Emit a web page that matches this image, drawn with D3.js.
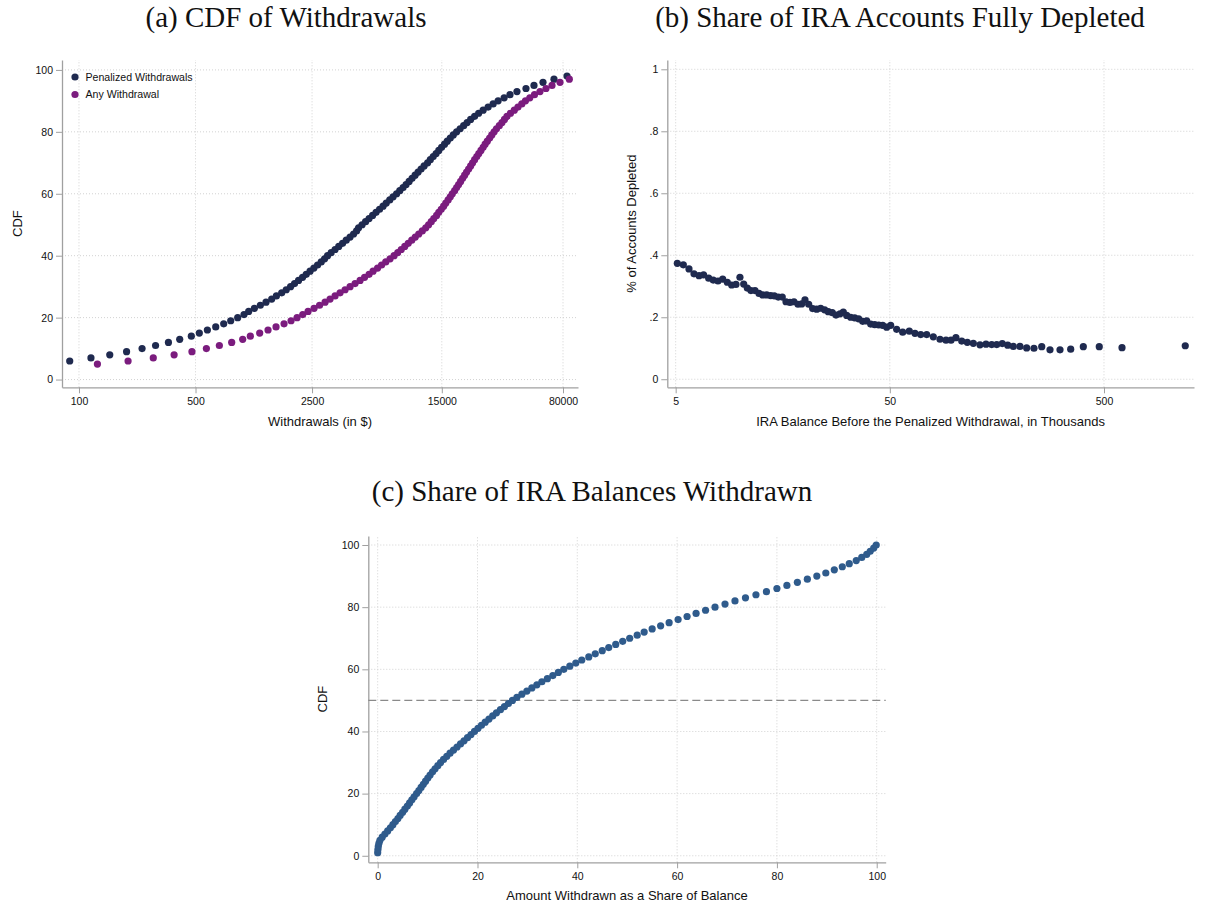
<!DOCTYPE html>
<html><head><meta charset="utf-8">
<script src="https://cdn.jsdelivr.net/npm/d3@7"></script>
<style>body{margin:0;background:#fff}</style>
</head><body>
<script>
// ---------- Panel (a): CDF of withdrawals (percentile -> dollars) ----------
const penalizedPct = d3.range(6, 99);
const penalizedAmt = [88,118,153,193,239,288,344,402,472,527,589,661,738,813,895,977,1042,1127,1224,1324,
  1432,1528,1644,1750,1858,1963,2075,2193,2307,2432,2564,2698,2838,2972,3097,3258,3436,3614,3811,4009,
  4227,4436,4624,4753,4989,5236,5495,5768,6053,6353,6668,6966,7311,7656,8035,8395,8790,9162,9550,9954,
  10375,10814,11272,11749,12331,12800,13330,13870,14390,14960,15580,16180,16870,17580,18410,19320,20280,21280,22340,23600,
  24950,26550,28440,30480,32660,35480,38460,42360,47970,53580,60670,70630,84530];
const anyPct = d3.range(5, 98);
const anyAmt = [129,197,279,372,476,581,695,824,959,1066,1213,1361,1520,1698,1871,2032,2198,2366,2570,2773,
  2992,3206,3436,3681,3945,4227,4529,4853,5164,5495,5808,6180,6531,6918,7345,7762,8166,8570,8995,9441,
  9908,10400,10910,11460,12020,12500,12970,13430,13960,14390,14890,15380,15850,16370,16870,17340,17910,18410,18920,19450,
  20000,20560,21130,21730,22340,22960,23600,24320,25000,25760,26550,27290,28120,29040,29920,30900,31920,33190,34440,35640,
  36900,38730,40830,42950,45290,47640,50580,53950,58210,63240,68710,76740,87300];
const aXTicks = [100,500,2500,15000,80000];
const aYTicks = [0,20,40,60,80,100];
const aLegend = ["Penalized Withdrawals","Any Withdrawal"];

// ---------- Panel (b): share of accounts fully depleted ----------
const balanceK = [5.09,5.43,5.77,6.09,6.43,6.75,7.13,7.49,7.88,8.29,8.71,9.13,9.56,9.98,10.39,10.80,11.23,11.73,12.25,12.74,
  13.30,13.89,14.44,15.07,15.73,16.37,17.09,17.84,18.63,19.38,20.08,20.90,21.81,22.77,23.77,24.81,25.80,26.93,28.03,29.26,
  30.32,31.44,32.83,34.27,35.77,37.34,38.98,40.70,42.49,44.35,46.30,48.34,50.46,53.81,57.41,61.64,65.52,69.70,74.31,79.80,
  85.74,91.46,96.51,101.8,108.3,115.0,122.7,131.8,140.6,149.5,157.8,167.5,177.6,188.6,202.6,217.7,235.5,256.0,279.8,311.6,
  349.6,400.3,475.3,607.0,1198];
const depleted = [0.374,0.369,0.356,0.340,0.334,0.337,0.326,0.320,0.317,0.323,0.313,0.304,0.306,0.329,0.307,0.294,0.286,0.286,0.277,0.272,
  0.272,0.270,0.269,0.265,0.265,0.250,0.248,0.250,0.242,0.243,0.256,0.242,0.228,0.226,0.229,0.224,0.218,0.215,0.207,0.211,
  0.217,0.206,0.200,0.198,0.195,0.187,0.188,0.178,0.176,0.175,0.174,0.168,0.174,0.161,0.152,0.155,0.148,0.144,0.144,0.137,
  0.129,0.126,0.126,0.134,0.123,0.119,0.116,0.111,0.113,0.112,0.112,0.115,0.110,0.106,0.106,0.101,0.100,0.105,0.095,0.095,
  0.097,0.105,0.105,0.102,0.108];
const bXTicks = [5,50,500];
const bYTicks = [0,0.2,0.4,0.6,0.8,1];
const bYLabels = ["0",".2",".4",".6",".8","1"];

// ---------- Panel (c): share of balance withdrawn ----------
const cdfPct = d3.range(1, 101);
const shareWithdrawn = [0.0,0.05,0.12,0.25,0.45,0.9,1.45,2.0,2.55,3.05,3.55,4.05,4.5,5.0,5.45,5.95,6.4,6.85,7.3,7.8,
  8.25,8.7,9.15,9.6,10.05,10.5,11.0,11.5,12.05,12.6,13.2,13.85,14.5,15.2,15.9,16.6,17.3,18.0,18.7,19.4,
  20.1,20.8,21.55,22.3,23.05,23.8,24.6,25.4,26.2,27.0,27.9,28.9,29.9,30.9,31.9,32.9,34.0,35.1,36.2,37.3,
  38.5,39.7,40.9,42.3,43.6,45.0,46.3,47.7,49.1,50.5,52.0,53.4,55.0,56.7,58.4,60.2,62.0,63.8,65.7,67.6,
  69.6,71.6,73.7,75.8,77.9,80.0,82.0,84.1,86.1,88.0,89.8,91.5,93.1,94.5,95.9,97.0,98.0,98.7,99.4,99.9];
const cXTicks = [0,20,40,60,80,100];
const cYTicks = [0,20,40,60,80,100];
const medianLine = 50;

const titles = ["(a) CDF of Withdrawals","(b) Share of IRA Accounts Fully Depleted","(c) Share of IRA Balances Withdrawn"];

// ---------- drawing ----------
const W = 1206, H = 909;
const SANS = '"Liberation Sans",Arial,Helvetica,sans-serif';
const SERIF = '"Liberation Serif","Times New Roman",serif';
const svg = d3.select("body").append("svg").attr("width", W).attr("height", H)
  .style("font-family", SANS);
svg.append("rect").attr("width", W).attr("height", H).attr("fill", "#fff");

const COL_NAVY = "#1f2a4f", COL_PURPLE = "#7b1c7e", COL_BLUE = "#2f5b8c";
const AXIS_COL = "#a0a0a0", GRID_COL = "#d2d2d2";
const R = 3.6;

function frame(o) {
  const g = svg.append("g");
  const [x0, x1] = o.x.range(), [y0, y1] = o.y.range();
  g.selectAll(null).data(o.yTicks).join("line")
    .attr("x1", x0).attr("x2", x1).attr("y1", d => o.y(d)).attr("y2", d => o.y(d))
    .attr("stroke", GRID_COL).attr("stroke-width", 1).attr("stroke-dasharray", "1 2");
  g.selectAll(null).data(o.xTicks).join("line")
    .attr("y1", y0).attr("y2", y1).attr("x1", d => o.x(d)).attr("x2", d => o.x(d))
    .attr("stroke", GRID_COL).attr("stroke-width", 1).attr("stroke-dasharray", "1 2");
  const gx = g.append("g").attr("transform", `translate(0,${y0})`)
    .call(d3.axisBottom(o.x).tickValues(o.xTicks).tickFormat(o.xFmt).tickSize(6).tickPadding(4).tickSizeOuter(0));
  const gy = g.append("g").attr("transform", `translate(${x0},0)`)
    .call(d3.axisLeft(o.y).tickValues(o.yTicks).tickFormat(o.yFmt).tickSize(6).tickPadding(3).tickSizeOuter(0));
  [gx, gy].forEach(a => {
    a.attr("font-family", null).attr("font-size", null);
    a.select(".domain").attr("stroke", AXIS_COL).attr("stroke-width", 1.3);
    a.selectAll(".tick line").attr("stroke", AXIS_COL).attr("stroke-width", 1);
    a.selectAll(".tick text").attr("fill", "#111").style("font-size", "10.5px").style("font-family", SANS);
  });
  g.append("text").attr("x", (x0 + x1) / 2).attr("y", o.xTitleY).attr("text-anchor", "middle")
    .style("font-size", "13px").attr("fill", "#111").text(o.xTitle);
  g.append("text").attr("transform", `translate(${o.yTitleX},${(y0 + y1) / 2}) rotate(-90)`)
    .attr("text-anchor", "middle").style("font-size", "13px").attr("fill", "#111").text(o.yTitle);
  svg.append("text").attr("x", o.titleX).attr("y", o.titleY).attr("text-anchor", "middle")
    .style("font-family", SERIF).style("font-size", "29px")
    .attr("fill", "#111").text(o.title);
  return g;
}

// Panel a
const xa = d3.scaleLog().domain([79.1, 98400]).range([62, 578]);
const ya = d3.scaleLinear().domain([-2.5, 103.2]).range([387.3, 60]);
const ga = frame({x: xa, y: ya, xTicks: aXTicks, yTicks: aYTicks, xFmt: d => String(d), yFmt: d => String(d),
  xTitle: "Withdrawals (in $)", yTitle: "CDF", xTitleY: 426, yTitleX: 22,
  title: titles[0], titleX: 286, titleY: 27});
ga.selectAll(null).data(penalizedPct).join("circle")
  .attr("cx", (d, i) => xa(penalizedAmt[i])).attr("cy", d => ya(d)).attr("r", R).attr("fill", COL_NAVY);
ga.selectAll(null).data(anyPct).join("circle")
  .attr("cx", (d, i) => xa(anyAmt[i])).attr("cy", d => ya(d)).attr("r", R).attr("fill", COL_PURPLE);
const leg = ga.append("g").attr("transform", "translate(75,77)");
[COL_NAVY, COL_PURPLE].forEach((c, i) => {
  leg.append("circle").attr("cx", 0).attr("cy", i * 17.5).attr("r", R).attr("fill", c);
  leg.append("text").attr("x", 10.5).attr("y", i * 17.5 + 3.8).style("font-size", "10.6px").attr("fill", "#111").text(aLegend[i]);
});

// Panel b
const xb = d3.scaleLog().domain([4.57, 1316]).range([667.3, 1194]);
const yb = d3.scaleLinear().domain([-0.026, 1.03]).range([387.3, 60]);
const gb = frame({x: xb, y: yb, xTicks: bXTicks, yTicks: bYTicks, xFmt: d => String(d), yFmt: (d, i) => bYLabels[i],
  xTitle: "IRA Balance Before the Penalized Withdrawal, in Thousands", yTitle: "% of Accounts Depleted",
  xTitleY: 426, yTitleX: 636, title: titles[1], titleX: 900, titleY: 27});
gb.selectAll(null).data(balanceK).join("circle")
  .attr("cx", d => xb(d)).attr("cy", (d, i) => yb(depleted[i])).attr("r", R).attr("fill", COL_NAVY);

// Panel c
const xc = d3.scaleLinear().domain([-1.88, 101.8]).range([368.3, 885.7]);
const yc = d3.scaleLinear().domain([-2.1, 102.9]).range([862.3, 536]);
const gc = frame({x: xc, y: yc, xTicks: cXTicks, yTicks: cYTicks, xFmt: d => String(d), yFmt: d => String(d),
  xTitle: "Amount Withdrawn as a Share of Balance", yTitle: "CDF", xTitleY: 900, yTitleX: 327,
  title: titles[2], titleX: 592, titleY: 501});
gc.append("line").attr("x1", xc.range()[0]).attr("x2", xc.range()[1]).attr("y1", yc(medianLine)).attr("y2", yc(medianLine))
  .attr("stroke", "#8a8a8a").attr("stroke-width", 1.3).attr("stroke-dasharray", "8 4");
gc.selectAll(null).data(cdfPct).join("circle")
  .attr("cx", (d, i) => xc(shareWithdrawn[i])).attr("cy", d => yc(d)).attr("r", R).attr("fill", COL_BLUE);
</script>
</body></html>
